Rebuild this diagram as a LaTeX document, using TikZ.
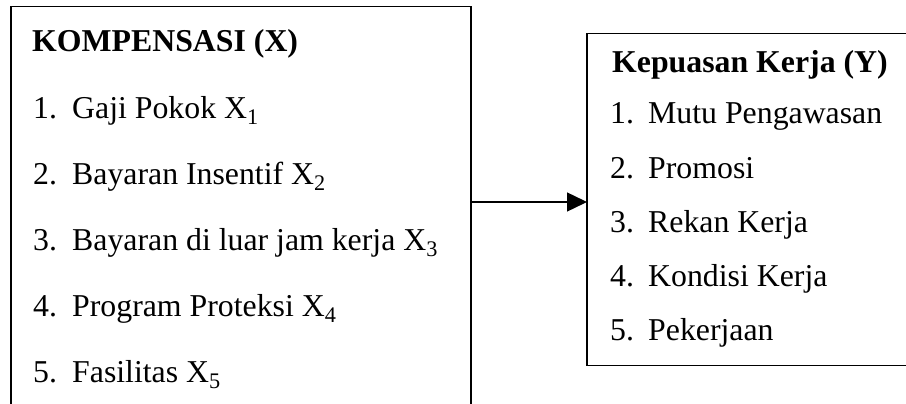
\documentclass[tikz,border=0pt]{standalone}
\usepackage{fontspec}
\setmainfont{Liberation Serif}
\usetikzlibrary{arrows.meta}
\begin{document}
\begin{tikzpicture}[x=1pt,y=-1pt,
  box/.style={draw, line width=1.7pt, inner sep=0pt, outer sep=0pt},
  txt/.style={anchor=base west, inner sep=0pt, font=\fontsize{31.8}{36}\selectfont},
  ttl/.style={anchor=base west, inner sep=0pt, font=\fontsize{31.8}{36}\selectfont\bfseries},
  num/.style={anchor=base west, inner sep=0pt, font=\fontsize{31.8}{36}\selectfont},
  link/.style={line width=1.4pt, -{Triangle[length=20pt,width=19pt]}}]
\useasboundingbox (0,0) rectangle (906,404);
\fill[white] (0,0) rectangle (906,404);
% left box
\node[box, minimum width=460pt, minimum height=440pt, anchor=north west] (L) at (11,6.5) {};
\node[ttl] (lt) at (32,52) {KOMPENSASI (X)};
\node[num] (ln1) at (33,118) {1.};
\node[txt] (l1) at (72,118) {Gaji Pokok X\textsubscript{1}};
\node[num] (ln2) at (33,184) {2.};
\node[txt] (l2) at (72,184) {Bayaran Insentif X\textsubscript{2}};
\node[num] (ln3) at (33,250) {3.};
\node[txt] (l3) at (72,250) {Bayaran di luar jam kerja X\textsubscript{3}};
\node[num] (ln4) at (33,316) {4.};
\node[txt] (l4) at (72,316) {Program Proteksi X\textsubscript{4}};
\node[num] (ln5) at (33,382) {5.};
\node[txt] (l5) at (72,382) {Fasilitas X\textsubscript{5}};
% right box
\node[box, line width=1.5pt, minimum width=340pt, minimum height=332pt, anchor=north west] (R) at (587,33.5) {};
\node[ttl] (rt) at (612,73) {Kepuasan Kerja (Y)};
\node[num] (rn1) at (610,124) {1.};
\node[txt] (r1) at (648,124) {Mutu Pengawasan};
\node[num] (rn2) at (610,178) {2.};
\node[txt] (r2) at (648,178) {Promosi};
\node[num] (rn3) at (610,232) {3.};
\node[txt] (r3) at (648,232) {Rekan Kerja};
\node[num] (rn4) at (610,286) {4.};
\node[txt] (r4) at (648,286) {Kondisi Kerja};
\node[num] (rn5) at (610,340) {5.};
\node[txt] (r5) at (648,340) {Pekerjaan};
% arrow
\coordinate (ay) at (0,202);
\draw[link] (L.east |- ay) -- (R.west |- ay);
\end{tikzpicture}
\end{document}
